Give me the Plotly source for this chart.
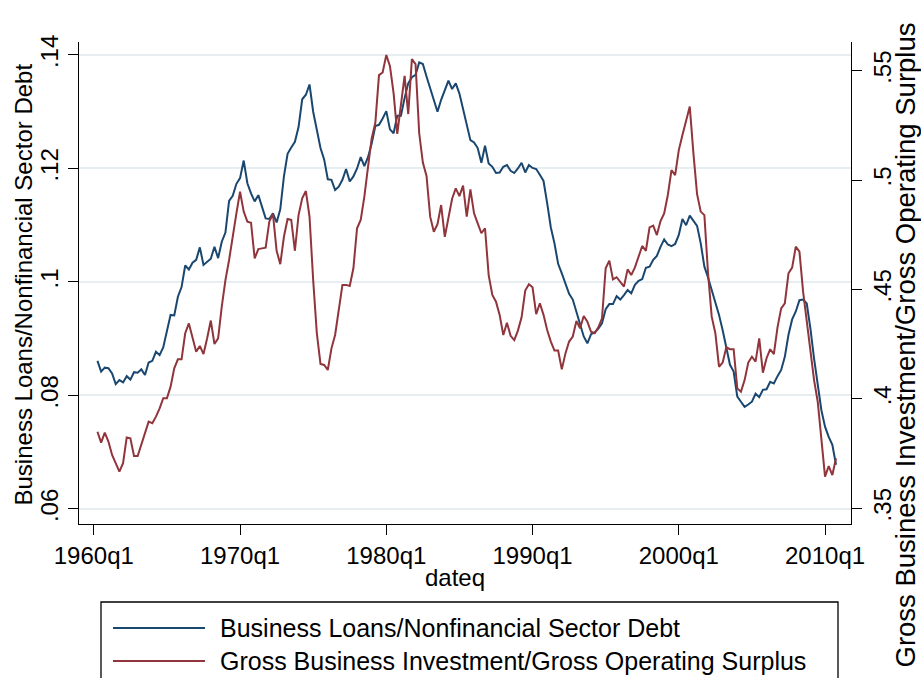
import plotly.graph_objects as go

# quarterly series, Stata %tq index (0 = 1960q1); first observation is 1960q2
first_quarter = 1

business_loans = [
    .0861, .0842, .0849, .0848, .0839, .0820, .0827, .0823, .0834, .0828,
    .0841, .0840, .0846, .0836, .0858, .0861, .0877, .0871, .0885, .0912,
    .0942, .0941, .0974, .0991, .1029, .1022, .1034, .1039, .1061, .1030,
    .1036, .1041, .1062, .1042, .1071, .1087, .1143, .1152, .1173, .1183,
    .1214, .1174, .1156, .1142, .1153, .1133, .1112, .1111, .1121, .1105,
    .1128, .1186, .1226, .1237, .1247, .1273, .1322, .1330, .1348, .1300,
    .1271, .1236, .1216, .1181, .1180, .1162, .1168, .1180, .1199, .1177,
    .1186, .1200, .1220, .1204, .1220, .1244, .1275, .1277, .1288, .1301,
    .1269, .1262, .1293, .1293, .1324, .1350, .1361, .1365, .1387, .1384,
    .1362, .1340, .1320, .1300, .1321, .1338, .1355, .1340, .1350, .1332,
    .1303, .1277, .1250, .1246, .1236, .1210, .1240, .1209, .1203, .1192,
    .1193, .1203, .1206, .1196, .1192, .1200, .1210, .1193, .1206, .1201,
    .1199, .1189, .1178, .1139, .1096, .1068, .1032, .1015, .0998, .0979,
    .0969, .0948, .0927, .0904, .0892, .0908, .0911, .0918, .0927, .0952,
    .0961, .0961, .0975, .0969, .0977, .0986, .0980, .0995, .1002, .1005,
    .1025, .1027, .1039, .1046, .1062, .1075, .1066, .1063, .1067, .1083,
    .1111, .1100, .1117, .1109, .1099, .1068, .1027, .1008, .0986, .0965,
    .0942, .0915, .0886, .0854, .0842, .0798, .0789, .0780, .0784, .0789,
    .0803, .0797, .0810, .0811, .0824, .0821, .0834, .0845, .0868, .0907,
    .0934, .0948, .0968, .0969, .0962, .0918, .0865, .0816, .0774, .0745,
    .0727, .0713, .0678,
]

gross_investment = [
    .3850, .3800, .3846, .3805, .3744, .3703, .3668, .3706, .3824, .3820,
    .3739, .3739, .3789, .3843, .3896, .3889, .3919, .3957, .4003, .4003,
    .4056, .4140, .4181, .4181, .4300, .4345, .4277, .4216, .4242, .4205,
    .4277, .4358, .4251, .4277, .4422, .4543, .4635, .4749, .4848, .4947,
    .4856, .4810, .4805, .4642, .4685, .4688, .4691, .4810, .4845, .4677,
    .4616, .4741, .4822, .4818, .4677, .4840, .4917, .4950, .4833, .4543,
    .4300, .4160, .4155, .4132, .4231, .4292, .4409, .4521, .4521, .4516,
    .4597, .4780, .4818, .4924, .5061, .5191, .5262, .5480, .5492, .5572,
    .5521, .5396, .5211, .5336, .5476, .5302, .5553, .5530, .5214, .5080,
    .5019, .4833, .4764, .4799, .4886, .4741, .4836, .4915, .4962, .4927,
    .4975, .4833, .4958, .4848, .4802, .4757, .4780, .4566, .4475, .4444,
    .4384, .4292, .4348, .4288, .4269, .4312, .4373, .4495, .4524, .4510,
    .4387, .4437, .4384, .4315, .4262, .4221, .4221, .4135, .4208, .4262,
    .4285, .4356, .4323, .4379, .4353, .4307, .4300, .4327, .4368, .4597,
    .4632, .4546, .4556, .4536, .4513, .4592, .4566, .4601, .4653, .4699,
    .4677, .4784, .4792, .4749, .4813, .4848, .4932, .5046, .5023, .5137,
    .5206, .5267, .5336, .5122, .4936, .4856, .4840, .4574, .4376, .4300,
    .4147, .4166, .4236, .4227, .4227, .4048, .4033, .4086, .4166, .4193,
    .4170, .4277, .4120, .4186, .4227, .4205, .4327, .4414, .4437, .4574,
    .4600, .4696, .4673, .4490, .4361, .4216, .4086, .3987, .3812, .3645,
    .3693, .3652, .3729,
]

tick_quarters = [0, 40, 80, 120, 160, 200]
tick_labels = ["1960q1", "1970q1", "1980q1", "1990q1", "2000q1", "2010q1"]
left_ticks = [0.06, 0.08, 0.10, 0.12, 0.14]
left_labels = [".06", ".08", ".1", ".12", ".14"]
right_ticks = [0.35, 0.40, 0.45, 0.50, 0.55]
right_labels = [".35", ".4", ".45", ".5", ".55"]

name_loans = "Business Loans/Nonfinancial Sector Debt"
name_invest = "Gross Business Investment/Gross Operating Surplus"

quarters = list(range(first_quarter, first_quarter + len(business_loans)))

navy = "#1a476f"
maroon = "#90353b"
font = "Liberation Sans, Arial, Helvetica, sans-serif"

W, H = 921, 678
L, R, T, B = 79, 70, 42, 154


def px(x):
    return (x - L) / (W - L - R)


def py(y):
    return (H - B - y) / (H - T - B)


fig = go.Figure()
fig.add_trace(go.Scatter(x=quarters, y=business_loans, mode="lines",
                         line=dict(color=navy, width=2), name=name_loans))
fig.add_trace(go.Scatter(x=quarters, y=gross_investment, mode="lines", yaxis="y2",
                         line=dict(color=maroon, width=2), name=name_invest))

axis_common = dict(showline=True, linecolor="black", linewidth=1.3, ticks="outside",
                   ticklen=10, tickwidth=1.3, tickcolor="black", zeroline=False,
                   tickfont=dict(size=24, color="black"))

fig.update_layout(
    width=W, height=H,
    margin=dict(l=L, r=R, t=T, b=B),
    plot_bgcolor="white", paper_bgcolor="white",
    font=dict(family=font, color="black", size=24),
    showlegend=False,
    xaxis=dict(range=[-4.05, 207.1], tickvals=tick_quarters, ticktext=tick_labels,
               showgrid=False, **axis_common),
    yaxis=dict(range=[0.05735, 0.14229], tickvals=left_ticks, ticktext=left_labels,
               tickangle=-90, showgrid=True, gridcolor="#e6eef1", gridwidth=1.5,
               **axis_common),
    yaxis2=dict(range=[0.34282, 0.56312], tickvals=right_ticks, ticktext=right_labels,
                tickangle=-90, overlaying="y", side="right", anchor="x",
                showgrid=False, **axis_common),
)

annotations = [
    dict(text="dateq", x=px(455), y=py(577), xref="paper", yref="paper",
         showarrow=False, xanchor="center", yanchor="middle", font=dict(size=24)),
    dict(text=name_loans, x=px(23), y=py(284.5), xref="paper", yref="paper",
         showarrow=False, textangle=-90, xanchor="center", yanchor="middle",
         font=dict(size=24)),
    dict(text=name_invest, x=px(905), y=py(670), xref="paper", yref="paper",
         showarrow=False, textangle=-90, xanchor="center", yanchor="bottom",
         font=dict(size=27.5)),
    dict(text=name_loans, x=px(218), y=py(628), xref="paper", yref="paper",
         showarrow=False, xanchor="left", yanchor="middle", font=dict(size=25)),
    dict(text=name_invest, x=px(218), y=py(661), xref="paper", yref="paper",
         showarrow=False, xanchor="left", yanchor="middle", font=dict(size=25)),
]

shapes = [
    dict(type="rect", xref="paper", yref="paper", x0=px(101), x1=px(838),
         y0=py(700), y1=py(602), line=dict(color="black", width=1.3)),
    dict(type="line", xref="paper", yref="paper", x0=px(113), x1=px(205),
         y0=py(628), y1=py(628), line=dict(color=navy, width=2)),
    dict(type="line", xref="paper", yref="paper", x0=px(113), x1=px(205),
         y0=py(661), y1=py(661), line=dict(color=maroon, width=2)),
]

fig.update_layout(annotations=annotations, shapes=shapes)

# the page's default 8px body margin would shift the whole figure
fig.write_html("out.html", config={"displayModeBar": False},
               post_script="document.body.style.margin = '0px';")
